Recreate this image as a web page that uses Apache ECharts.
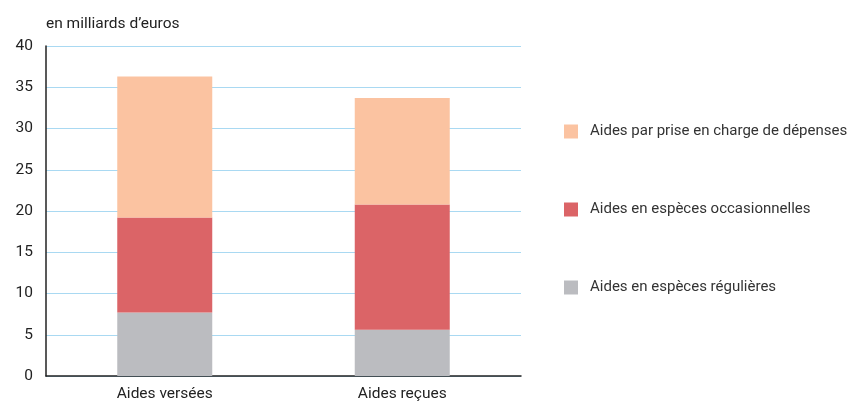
<!DOCTYPE html>
<html><head><meta charset="utf-8">
<script src="https://cdn.jsdelivr.net/npm/echarts@6/dist/echarts.min.js"></script>
<style>html,body{margin:0;padding:0;background:#fff}#c{width:854px;height:405px}</style>
</head><body><div id="c"></div>
<script>
const categories = ['Aides versées', 'Aides reçues'];
const seriesNames = ['Aides en espèces régulières', 'Aides en espèces occasionnelles', 'Aides par prise en charge de dépenses'];
const regulieres = [7.7, 5.6];
const occasionnelles = [11.5, 15.2];
const priseEnCharge = [17.1, 12.9];
const colors = ['#bbbcc0', '#db6467', '#fbc3a1'];
const font = 'Roboto';
const fs = 15.5;
const chart = echarts.init(document.getElementById('c'));
const values = [regulieres, occasionnelles, priseEnCharge];
chart.setOption({
  animation: false,
  textStyle: {fontFamily: font},
  grid: {left: 46, right: 333, top: 46, bottom: 29},
  legend: {
    orient: 'vertical', left: 559, top: 119, itemWidth: 14, itemHeight: 14, itemGap: 63,
    icon: 'rect',
    data: [seriesNames[2], seriesNames[1], seriesNames[0]],
    textStyle: {fontFamily: font, fontSize: 15, color: '#333', padding: [0,0,0,7]}
  },
  xAxis: {
    type: 'category', data: categories,
    axisLine: {lineStyle: {color: '#222', width: 1.5}},
    axisTick: {show: false},
    axisLabel: {fontFamily: font, fontSize: fs, color: '#222', margin: 10}
  },
  yAxis: {
    type: 'value', min: 0, max: 40, interval: 5,
    name: 'en milliards d\u2019euros', nameLocation: 'end', nameGap: 14,
    nameTextStyle: {fontFamily: font, fontSize: fs, color: '#222', align: 'left', padding: [0,0,0,0]},
    axisLine: {show: true, lineStyle: {color: '#222', width: 1.5}},
    axisTick: {show: false},
    axisLabel: {fontFamily: font, fontSize: fs, color: '#222', margin: 13},
    splitLine: {lineStyle: {color: '#a9d9f2', width: 1}}
  },
  series: values.map((v, i) => ({
    name: seriesNames[i], type: 'bar', stack: 's', data: v, barWidth: '40%',
    itemStyle: {color: colors[i]}
  }))
});
</script></body></html>
